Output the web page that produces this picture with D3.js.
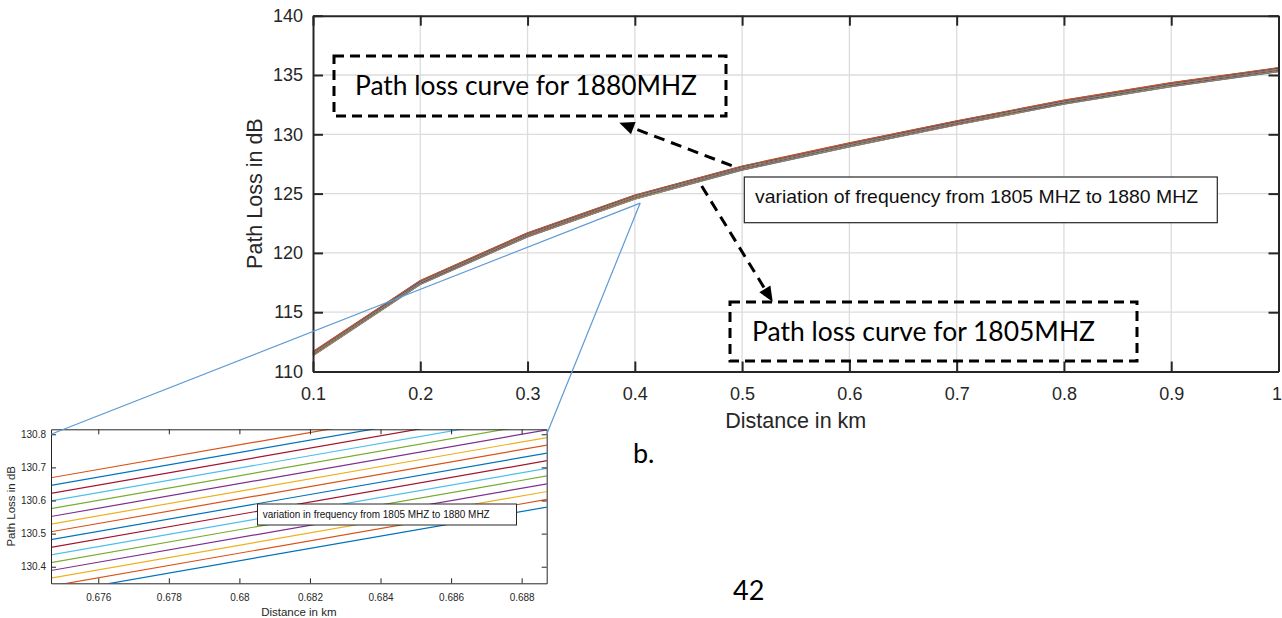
<!DOCTYPE html>
<html><head><meta charset="utf-8">
<script src="https://cdn.jsdelivr.net/npm/d3@7/dist/d3.min.js"></script>
<style>body{margin:0;background:#fff;overflow:hidden}</style>
</head><body>
<svg id="c" width="1282" height="618"></svg>
<script>
// ---- data ----
const distancesKm = [0.1, 0.2, 0.3, 0.4, 0.5, 0.6, 0.7, 0.8, 0.9, 1.0];
const pathLoss1805 = [111.33, 117.33, 121.35, 124.53, 126.98, 128.93, 130.79, 132.53, 134.01, 135.28];
const frequenciesMHz = [1805, 1810, 1815, 1820, 1825, 1830, 1835, 1840, 1845, 1850, 1855, 1860, 1865, 1870, 1875, 1880];
const freqOffsetDb = [0, 0.023, 0.047, 0.070, 0.094, 0.117, 0.140, 0.163, 0.187, 0.210, 0.233, 0.257, 0.280, 0.303, 0.327, 0.350];
const mainXTicks = [0.1, 0.2, 0.3, 0.4, 0.5, 0.6, 0.7, 0.8, 0.9, 1.0];
const mainYTicks = [110, 115, 120, 125, 130, 135, 140];
const insetXTicks = [0.676, 0.678, 0.680, 0.682, 0.684, 0.686, 0.688];
const insetYTicks = [130.4, 130.5, 130.6, 130.7, 130.8];
const insetXDomain = [0.67466, 0.68871];
const insetYDomain = [130.35, 130.815];
const zoomSource = [0.405, 124.2];
const lineColors = ["#0072BD", "#D95319", "#EDB120", "#7E2F8E", "#77AC30", "#4DBEEE", "#A2142F"];

const series = frequenciesMHz.map((f, i) => ({
  f, color: lineColors[i % lineColors.length],
  values: distancesKm.map((d, j) => [d, pathLoss1805[j] + freqOffsetDb[i]])
}));

const svg = d3.select("#c");
const AX = "#262626";
const SANS = "'Liberation Sans', Arial, Helvetica, sans-serif";
const CAL = "Lato, 'Open Sans', sans-serif";

// ---- main chart ----
const M = {l: 313, r: 1278.5, t: 15.7, b: 371.5};
const x = d3.scaleLinear().domain([0.1, 1.0]).range([M.l, M.r]);
const y = d3.scaleLinear().domain([110, 140]).range([M.b, M.t]);

const grid = svg.append("g");
grid.selectAll(".gx").data(mainXTicks.slice(1, -1)).join("line")
  .attr("x1", d => x(d)).attr("x2", d => x(d)).attr("y1", M.t).attr("y2", M.b)
  .attr("stroke", "#dcdcdc").attr("stroke-width", 1.3);
grid.selectAll(".gy").data(mainYTicks.slice(1, -1)).join("line")
  .attr("y1", d => y(d)).attr("y2", d => y(d)).attr("x1", M.l).attr("x2", M.r)
  .attr("stroke", "#dcdcdc").attr("stroke-width", 1.3);

const line = d3.line().x(d => x(d[0])).y(d => y(d[1]));
svg.append("g").selectAll("path").data(series).join("path")
  .attr("d", d => line(d.values)).attr("fill", "none")
  .attr("stroke", d => d.color).attr("stroke-width", 1.1);

function styleAxis(g, fs, w) {
  g.attr("font-family", SANS).attr("font-size", fs);
  g.selectAll("text").attr("fill", AX);
  g.selectAll("line").attr("stroke", AX).attr("stroke-width", w);
  g.select(".domain").attr("stroke", AX).attr("stroke-width", w);
}
const fmt1 = d => String(+d.toFixed(1));
svg.append("g").attr("transform", `translate(0,${M.b})`)
  .call(d3.axisBottom(x).tickValues(mainXTicks).tickSizeInner(-10).tickSizeOuter(0).tickPadding(16).tickFormat(fmt1))
  .call(g => styleAxis(g, 18, 2))
  .call(g => g.selectAll(".tick").filter(d => d === 1.0).select("text")
    .attr("text-anchor", "end").attr("dx", 3));
svg.append("g").attr("transform", `translate(${M.l},0)`)
  .call(d3.axisLeft(y).tickValues(mainYTicks).tickSizeInner(-10).tickSizeOuter(0).tickPadding(10).tickFormat(d3.format("d")))
  .call(g => styleAxis(g, 18, 2));
svg.append("g").attr("transform", `translate(0,${M.t})`)
  .call(d3.axisTop(x).tickValues(mainXTicks).tickSizeInner(-10).tickSizeOuter(0).tickFormat(""))
  .call(g => styleAxis(g, 18, 2));
svg.append("g").attr("transform", `translate(${M.r},0)`)
  .call(d3.axisRight(y).tickValues(mainYTicks).tickSizeInner(-10).tickSizeOuter(0).tickFormat(""))
  .call(g => styleAxis(g, 18, 2));

svg.append("text").attr("x", (M.l + M.r) / 2).attr("y", 428).attr("text-anchor", "middle")
  .attr("font-family", SANS).attr("font-size", 21.5).attr("fill", AX).text("Distance in km");
svg.append("text").attr("transform", `translate(262,${(M.t + M.b) / 2}) rotate(-90)`).attr("text-anchor", "middle")
  .attr("font-family", SANS).attr("font-size", 21.5).attr("fill", AX).text("Path Loss in dB");

// ---- inset chart ----
const I = {l: 51, r: 546.7, t: 429.3, b: 583.3};
const ix = d3.scaleLinear().domain(insetXDomain).range([I.l, I.r]);
const iy = d3.scaleLinear().domain(insetYDomain).range([I.b, I.t]);
svg.append("clipPath").attr("id", "ic").append("rect")
  .attr("x", I.l).attr("y", I.t).attr("width", I.r - I.l).attr("height", I.b - I.t);
const iline = d3.line().x(d => ix(d[0])).y(d => iy(d[1]));
svg.append("g").attr("clip-path", "url(#ic)").selectAll("path").data(series).join("path")
  .attr("d", d => iline(d.values)).attr("fill", "none")
  .attr("stroke", d => d.color).attr("stroke-width", 1.2);

const fmt3 = d => String(+d.toFixed(3));
svg.append("g").attr("transform", `translate(0,${I.b})`)
  .call(d3.axisBottom(ix).tickValues(insetXTicks).tickSizeInner(-5).tickSizeOuter(0).tickPadding(11).tickFormat(fmt3))
  .call(g => styleAxis(g, 10, 1));
svg.append("g").attr("transform", `translate(${I.l},0)`)
  .call(d3.axisLeft(iy).tickValues(insetYTicks).tickSizeInner(-5).tickSizeOuter(0).tickPadding(5).tickFormat(d => d.toFixed(1)))
  .call(g => styleAxis(g, 10, 1));
svg.append("g").attr("transform", `translate(0,${I.t})`)
  .call(d3.axisTop(ix).tickValues(insetXTicks).tickSizeInner(-5).tickSizeOuter(0).tickFormat(""))
  .call(g => styleAxis(g, 10, 1));
svg.append("g").attr("transform", `translate(${I.r},0)`)
  .call(d3.axisRight(iy).tickValues(insetYTicks).tickSizeInner(-5).tickSizeOuter(0).tickFormat(""))
  .call(g => styleAxis(g, 10, 1));
svg.append("text").attr("x", (I.l + I.r) / 2).attr("y", 616).attr("text-anchor", "middle")
  .attr("font-family", SANS).attr("font-size", 11.5).attr("fill", AX).text("Distance in km");
svg.append("text").attr("transform", `translate(15,${(I.t + I.b) / 2}) rotate(-90)`).attr("text-anchor", "middle")
  .attr("font-family", SANS).attr("font-size", 11.5).attr("fill", AX).text("Path Loss in dB");

// inset text box
svg.append("rect").attr("x", 257.5).attr("y", 504).attr("width", 259).attr("height", 21)
  .attr("fill", "#fff").attr("stroke", AX).attr("stroke-width", 1);
svg.append("text").attr("x", 262.7).attr("y", 518.3).attr("font-family", SANS).attr("font-size", 10)
  .attr("fill", "#111").attr("textLength", 227).attr("lengthAdjust", "spacingAndGlyphs")
  .text("variation in frequency from 1805 MHZ to 1880 MHZ");

// ---- zoom connector lines ----
const conn = svg.append("g").attr("stroke", "#5B9BD5").attr("stroke-width", 1.2);
[[insetXDomain[0]], [insetXDomain[1]]].forEach(([xv]) => {
  conn.append("line").attr("x1", x(zoomSource[0])).attr("y1", y(zoomSource[1]))
    .attr("x2", ix(xv)).attr("y2", iy(130.8));
});

// ---- annotations ----
const ann = svg.append("g");
function dashedBox(x0, y0, x1, y1) {
  ann.append("rect").attr("x", x0).attr("y", y0).attr("width", x1 - x0).attr("height", y1 - y0)
    .attr("fill", "none").attr("stroke", "#000").attr("stroke-width", 3).attr("stroke-dasharray", "10,6");
}
dashedBox(334, 56, 726, 116);
dashedBox(730, 302, 1137, 361);
ann.append("text").attr("x", 355).attr("y", 95).attr("font-family", CAL).attr("font-size", 27)
  .attr("fill", "#000").attr("textLength", 342).attr("lengthAdjust", "spacingAndGlyphs").text("Path loss curve for 1880MHZ");
ann.append("text").attr("x", 752).attr("y", 340.5).attr("font-family", CAL).attr("font-size", 27)
  .attr("fill", "#000").attr("textLength", 343).attr("lengthAdjust", "spacingAndGlyphs").text("Path loss curve for 1805MHZ");

ann.append("rect").attr("x", 744.3).attr("y", 177).attr("width", 473).attr("height", 45.7)
  .attr("fill", "#fff").attr("stroke", AX).attr("stroke-width", 1.2);
ann.append("text").attr("x", 755).attr("y", 203.3).attr("font-family", SANS).attr("font-size", 19)
  .attr("fill", "#111").attr("textLength", 443).attr("lengthAdjust", "spacingAndGlyphs")
  .text("variation of frequency from 1805 MHZ to 1880 MHZ");

function dashedArrow(x0, y0, x1, y1) {
  const dx = x1 - x0, dy = y1 - y0, L = Math.hypot(dx, dy);
  const ux = dx / L, uy = dy / L, hl = 15, hw = 6.5;
  ann.append("line").attr("x1", x0).attr("y1", y0).attr("x2", x1 - ux * hl * 0.8).attr("y2", y1 - uy * hl * 0.8)
    .attr("stroke", "#000").attr("stroke-width", 3).attr("stroke-dasharray", "11,7");
  const bx = x1 - ux * hl, by = y1 - uy * hl;
  ann.append("polygon").attr("points",
    `${x1},${y1} ${bx - uy * hw},${by + ux * hw} ${bx + uy * hw},${by - ux * hw}`).attr("fill", "#000");
}
dashedArrow(731.7, 165.7, 619.3, 122.7);
dashedArrow(701.7, 186, 772.7, 301.7);

svg.append("text").attr("x", 633).attr("y", 463.3).attr("font-family", CAL).attr("font-size", 27)
  .attr("fill", "#000").text("b.");
svg.append("text").attr("x", 733).attr("y", 600).attr("font-family", CAL).attr("font-size", 27)
  .attr("fill", "#000").text("42");
</script>
</body></html>
